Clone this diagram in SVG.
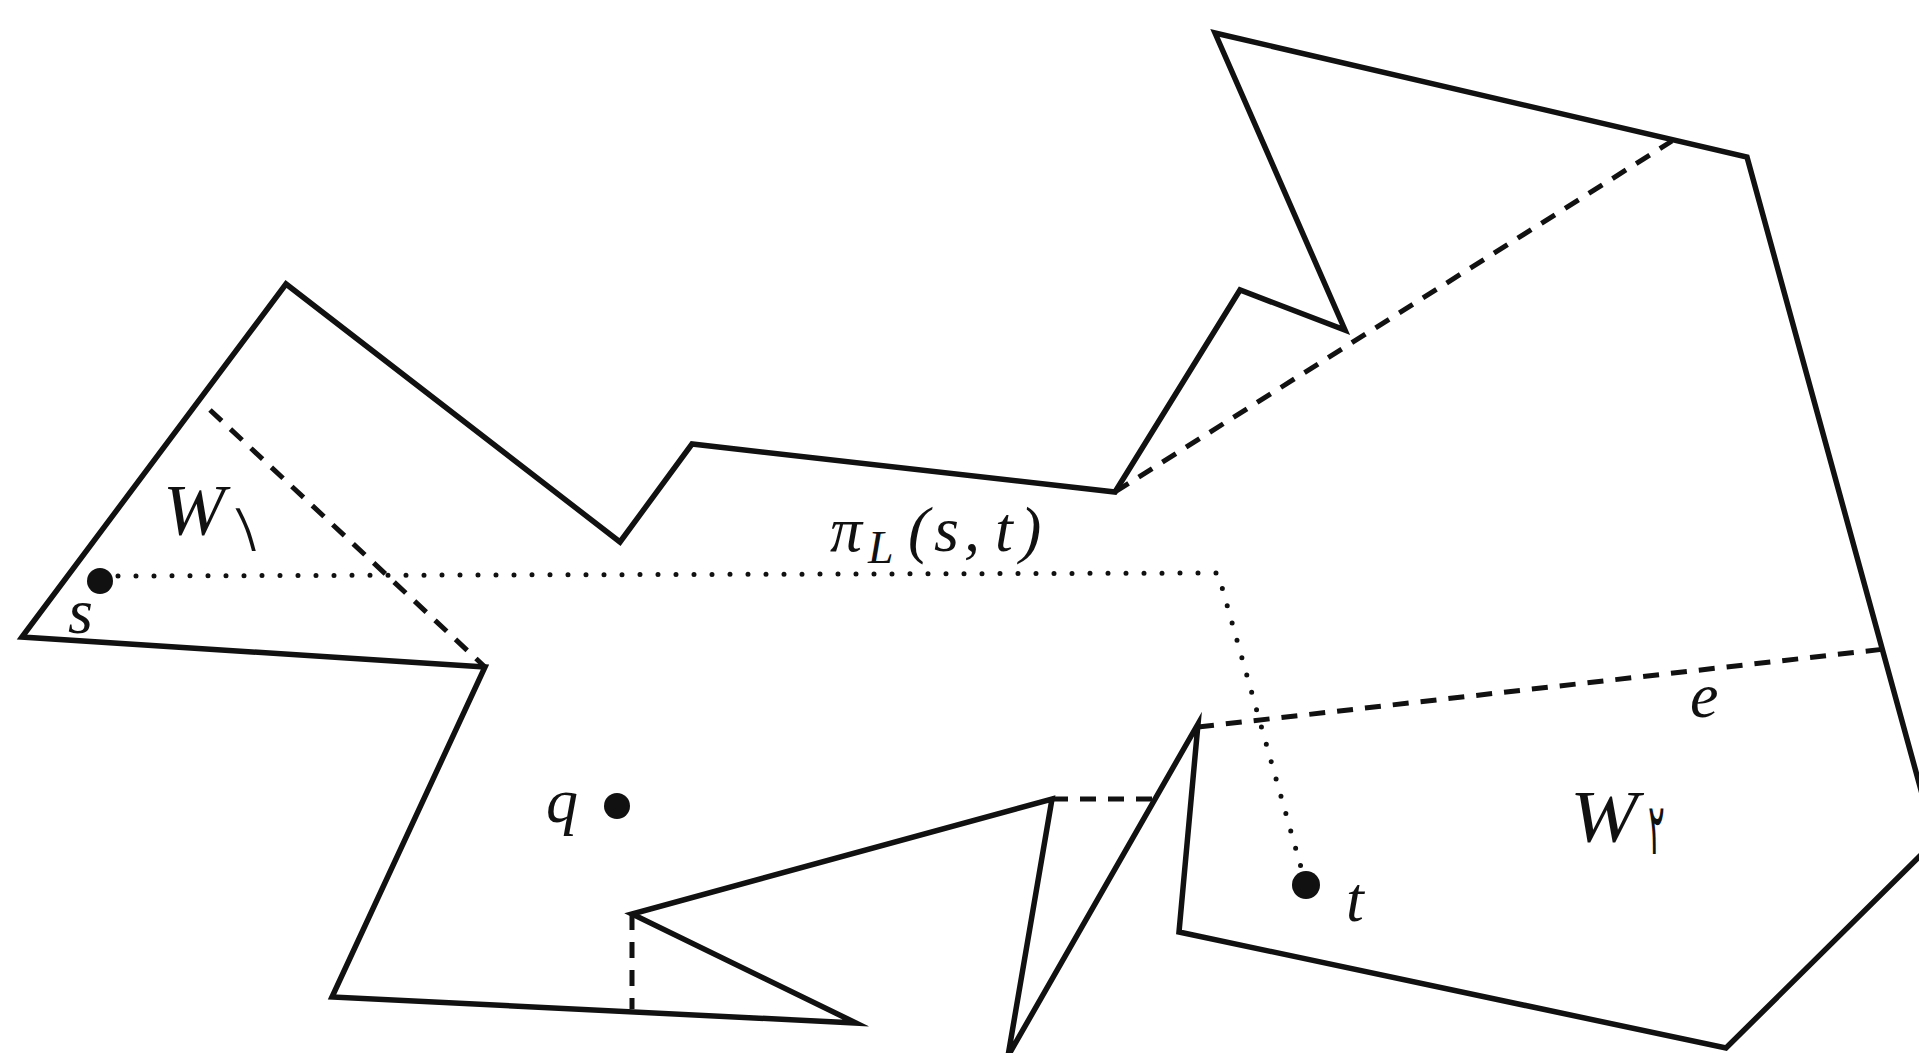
<svg xmlns="http://www.w3.org/2000/svg" width="1919" height="1053" viewBox="0 0 1919 1053">
<style>
.edge{fill:none;stroke:#111;stroke-width:5.5;stroke-linejoin:miter;stroke-miterlimit:10}
.dash{fill:none;stroke:#111;stroke-width:5;stroke-dasharray:16 12}
.dot{fill:none;stroke:#111;stroke-width:5;stroke-linecap:round;stroke-dasharray:0 18}
.pt{fill:#111}
.lbl{font-family:"Liberation Serif","Times New Roman",serif;font-style:italic;fill:#111}
.fa{font-family:"DejaVu Sans","Noto Sans",sans-serif;fill:#111}
</style>
<rect width="1919" height="1053" fill="#fff"/>
<g id="polygon">
<path class="edge" d="M22,637 L286,284 L620,542 L692,444 L1115,492 L1240,290 L1345,330 L1215,33 L1747,157 L1935,841 L1726,1048 L1179,932 L1198,724 L1008,1056 L1052,799 L632,914 L856,1023 L332,997 L485,667 Z"/>
</g>
<g id="connectors">
<line class="dash" x1="210" y1="410" x2="485" y2="667"/>
<line class="dash" x1="1115" y1="492" x2="1672" y2="141"/>
<line class="dash" x1="1198" y1="727" x2="1885" y2="649"/>
<line class="dash" x1="1052" y1="799" x2="1160" y2="799"/>
<line class="dash" x1="632" y1="914" x2="632" y2="1009"/>
<polyline class="dot" points="118,576 1218,573 1306,885"/>
</g>
<g id="node-s">
<circle class="pt" cx="100" cy="581" r="13"/>
<text class="lbl" x="68" y="633" font-size="64">s</text>
</g>
<g id="node-q">
<circle class="pt" cx="617" cy="806" r="13"/>
<text class="lbl" x="546" y="822" font-size="64">q</text>
</g>
<g id="node-t">
<circle class="pt" cx="1306" cy="885" r="14"/>
<text class="lbl" x="1346" y="921" font-size="64">t</text>
</g>
<g id="label-W1">
<text class="lbl" x="163" y="534" font-size="72" textLength="62" lengthAdjust="spacingAndGlyphs">W</text>
<text class="fa" transform="translate(241,551) skewX(15) scale(0.9,1.4)" font-size="48">۱</text>
</g>
<g id="label-W2">
<text class="lbl" x="1570" y="842" font-size="74" textLength="68" lengthAdjust="spacingAndGlyphs">W</text>
<text class="fa" transform="translate(1648,854) scale(0.65,1.5)" font-size="48">۲</text>
</g>
<g id="label-e">
<text class="lbl" x="1690" y="717" font-size="64">e</text>
</g>
<g id="label-pi">
<text class="lbl" x="830" y="551" font-size="64">π</text>
<text class="lbl" x="868" y="563" font-size="46">L</text>
<text class="lbl" font-size="64" y="551"><tspan x="908">(</tspan><tspan x="934">s</tspan><tspan x="964">,</tspan><tspan x="995">t</tspan><tspan x="1020">)</tspan></text>
</g>
</svg>
